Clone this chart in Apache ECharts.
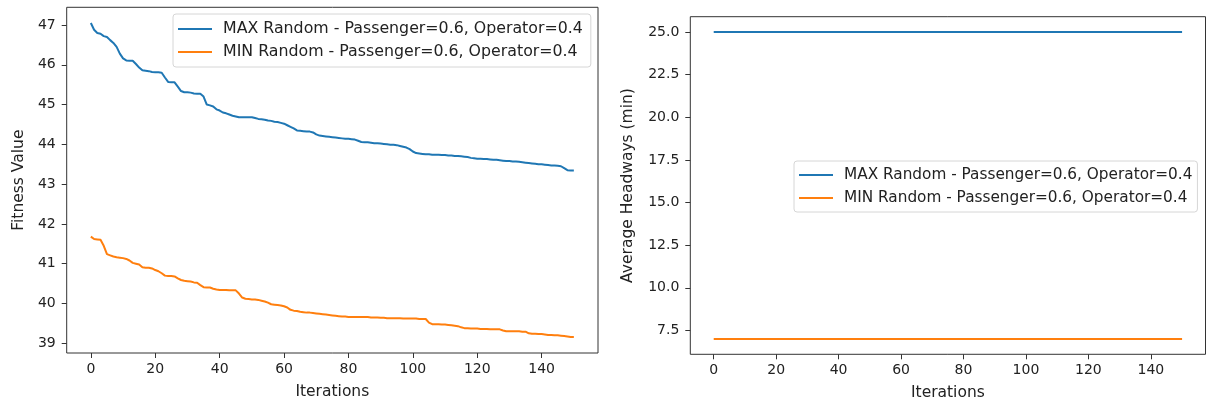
<!DOCTYPE html>
<html>
<head>
<meta charset="utf-8">
<script src="https://cdn.jsdelivr.net/npm/echarts@6/dist/echarts.min.js"></script>
<style>
html,body{margin:0;padding:0;background:#fff;}
#chart{width:1206px;height:408px;}
</style>
</head>
<body>
<div id="chart"></div>
<script>
// ---- data ----
const seriesNames = ['MAX Random - Passenger=0.6, Operator=0.4', 'MIN Random - Passenger=0.6, Operator=0.4'];
const xTicks = [0, 20, 40, 60, 80, 100, 120, 140];
const fitnessTicks = [39, 40, 41, 42, 43, 44, 45, 46, 47];
const headwayTicks = [7.5, 10.0, 12.5, 15.0, 17.5, 20.0, 22.5, 25.0];

const fitnessMax = [
47.05,46.88,46.80,46.78,46.72,46.70,46.62,46.55,46.45,46.28,
46.16,46.11,46.10,46.10,46.02,45.93,45.86,45.85,45.84,45.82,
45.81,45.81,45.80,45.68,45.57,45.56,45.56,45.45,45.34,45.31,
45.31,45.30,45.28,45.27,45.27,45.20,45.00,44.98,44.95,44.88,
44.85,44.80,44.78,44.75,44.72,44.70,44.68,44.68,44.68,44.68,
44.68,44.66,44.64,44.63,44.62,44.60,44.59,44.57,44.56,44.54,
44.52,44.48,44.44,44.40,44.35,44.34,44.33,44.32,44.32,44.30,
44.25,44.22,44.21,44.20,44.19,44.18,44.17,44.16,44.15,44.14,
44.14,44.13,44.12,44.09,44.06,44.05,44.05,44.04,44.03,44.03,
44.02,44.01,44.00,43.99,43.99,43.98,43.96,43.94,43.92,43.88,
43.82,43.78,43.77,43.76,43.75,43.75,43.74,43.74,43.74,43.73,
43.73,43.72,43.72,43.71,43.71,43.70,43.69,43.68,43.66,43.65,
43.64,43.64,43.63,43.63,43.62,43.61,43.61,43.60,43.59,43.58,
43.58,43.57,43.57,43.56,43.55,43.54,43.53,43.52,43.51,43.50,
43.50,43.49,43.48,43.47,43.47,43.46,43.45,43.40,43.35,43.34,
43.34];

const fitnessMin = [
41.68,41.62,41.61,41.60,41.45,41.24,41.21,41.18,41.16,41.15,
41.14,41.12,41.08,41.02,41.00,40.98,40.91,40.90,40.90,40.88,
40.84,40.81,40.76,40.70,40.69,40.69,40.68,40.63,40.59,40.57,
40.56,40.55,40.53,40.52,40.46,40.41,40.40,40.40,40.37,40.35,
40.34,40.34,40.34,40.33,40.33,40.33,40.25,40.15,40.12,40.11,
40.10,40.10,40.09,40.07,40.05,40.02,39.98,39.97,39.96,39.95,
39.93,39.90,39.84,39.82,39.81,39.79,39.78,39.77,39.77,39.76,
39.75,39.74,39.73,39.72,39.71,39.70,39.69,39.68,39.67,39.67,
39.66,39.66,39.66,39.66,39.66,39.66,39.66,39.65,39.65,39.65,
39.64,39.64,39.63,39.63,39.63,39.63,39.63,39.62,39.62,39.62,
39.62,39.62,39.61,39.61,39.61,39.52,39.48,39.48,39.48,39.47,
39.47,39.46,39.45,39.44,39.43,39.40,39.38,39.38,39.37,39.37,
39.37,39.36,39.36,39.36,39.35,39.35,39.35,39.35,39.32,39.30,
39.30,39.30,39.30,39.30,39.29,39.29,39.25,39.24,39.24,39.23,
39.23,39.22,39.21,39.21,39.20,39.20,39.19,39.18,39.17,39.16,
39.16];

const headwayMax = [
25,25,25,25,25,25,25,25,25,25, 25,25,25,25,25,25,25,25,25,25,
25,25,25,25,25,25,25,25,25,25, 25,25,25,25,25,25,25,25,25,25,
25,25,25,25,25,25,25,25,25,25, 25,25,25,25,25,25,25,25,25,25,
25,25,25,25,25,25,25,25,25,25, 25,25,25,25,25,25,25,25,25,25,
25,25,25,25,25,25,25,25,25,25, 25,25,25,25,25,25,25,25,25,25,
25,25,25,25,25,25,25,25,25,25, 25,25,25,25,25,25,25,25,25,25,
25,25,25,25,25,25,25,25,25,25, 25,25,25,25,25,25,25,25,25,25,
25,25,25,25,25,25,25,25,25,25, 25];

const headwayMin = [
7,7,7,7,7,7,7,7,7,7, 7,7,7,7,7,7,7,7,7,7,
7,7,7,7,7,7,7,7,7,7, 7,7,7,7,7,7,7,7,7,7,
7,7,7,7,7,7,7,7,7,7, 7,7,7,7,7,7,7,7,7,7,
7,7,7,7,7,7,7,7,7,7, 7,7,7,7,7,7,7,7,7,7,
7,7,7,7,7,7,7,7,7,7, 7,7,7,7,7,7,7,7,7,7,
7,7,7,7,7,7,7,7,7,7, 7,7,7,7,7,7,7,7,7,7,
7,7,7,7,7,7,7,7,7,7, 7,7,7,7,7,7,7,7,7,7,
7,7,7,7,7,7,7,7,7,7, 7];

// ---- chart ----
const FONT = 'DejaVu Sans';
const TXT = '#222';
const BLUE = '#1f77b4', ORANGE = '#ff7f0e';
const pairs = arr => arr.map((v, i) => [i, v]);

function xAxis(gridIndex, gap) {
  return {
    type: 'value', gridIndex, min: -7.5, max: 157.5,
    name: 'Iterations', nameLocation: 'middle', nameGap: gap,
    nameTextStyle: { fontFamily: FONT, fontSize: 15.5, color: TXT },
    axisLine: { show: false, onZero: false },
    axisTick: { show: true, inside: false, length: 5, lineStyle: { color: '#333', width: 1 }, customValues: xTicks },
    axisLabel: { show: true, margin: 9, fontFamily: FONT, fontSize: 14, color: TXT, customValues: xTicks },
    splitLine: { show: false }
  };
}
function yAxis(gridIndex, name, min, max, ticks, gap, fmt) {
  return {
    type: 'value', gridIndex, min, max,
    name, nameLocation: 'middle', nameGap: gap,
    nameTextStyle: { fontFamily: FONT, fontSize: 15.5, color: TXT },
    axisLine: { show: false, onZero: false },
    axisTick: { show: true, inside: false, length: 5, lineStyle: { color: '#333', width: 1 }, customValues: ticks },
    axisLabel: { show: true, margin: 11, fontFamily: FONT, fontSize: 14, color: TXT, customValues: ticks, formatter: fmt },
    splitLine: { show: false }
  };
}
function legend(left, top, pad, fontSize) {
  return {
    orient: 'vertical', left, top,
    data: seriesNames,
    icon: 'rect', itemWidth: 34, itemHeight: 2, itemGap: 6,
    padding: pad,
    backgroundColor: 'rgba(255,255,255,0.8)',
    borderColor: '#d6d6d6', borderWidth: 1, borderRadius: 3,
    selectedMode: false,
    textStyle: { fontFamily: FONT, fontSize, color: TXT, lineHeight: 17, padding: [0, 0, 0, 6] }
  };
}
function line(name, data, xi, yi, color) {
  return {
    name, type: 'line', data: pairs(data), xAxisIndex: xi, yAxisIndex: yi,
    symbol: 'none', showSymbol: false, smooth: false,
    lineStyle: { color, width: 2 }, itemStyle: { color },
    z: 3
  };
}

const chart = echarts.init(document.getElementById('chart'), null, { renderer: 'canvas' });
chart.setOption({
  animation: false,
  backgroundColor: '#fff',
  grid: [
    { left: 66.7, top: 7.3, width: 531.3, height: 345.7, show: true, borderColor: '#333', borderWidth: 1, backgroundColor: 'transparent' },
    { left: 690.3, top: 16.7, width: 515.2, height: 337.6, show: true, borderColor: '#333', borderWidth: 1, backgroundColor: 'transparent' }
  ],
  xAxis: [xAxis(0, 31), xAxis(1, 31)],
  yAxis: [
    yAxis(0, 'Fitness Value', 38.755, 47.445, fitnessTicks, 40, v => String(Math.round(v))),
    yAxis(1, 'Average Headways (min)', 6.1, 25.9, headwayTicks, 54, v => v.toFixed(1))
  ],
  legend: [legend(173, 14, [6.5, 8, 6.5, 5], 15.8), legend(794, 161, [5.5, 5, 5.5, 5], 15.3)],
  series: [
    line(seriesNames[0], fitnessMax, 0, 0, BLUE),
    line(seriesNames[1], fitnessMin, 0, 0, ORANGE),
    line(seriesNames[0], headwayMax, 1, 1, BLUE),
    line(seriesNames[1], headwayMin, 1, 1, ORANGE)
  ]
});
</script>
</body>
</html>
